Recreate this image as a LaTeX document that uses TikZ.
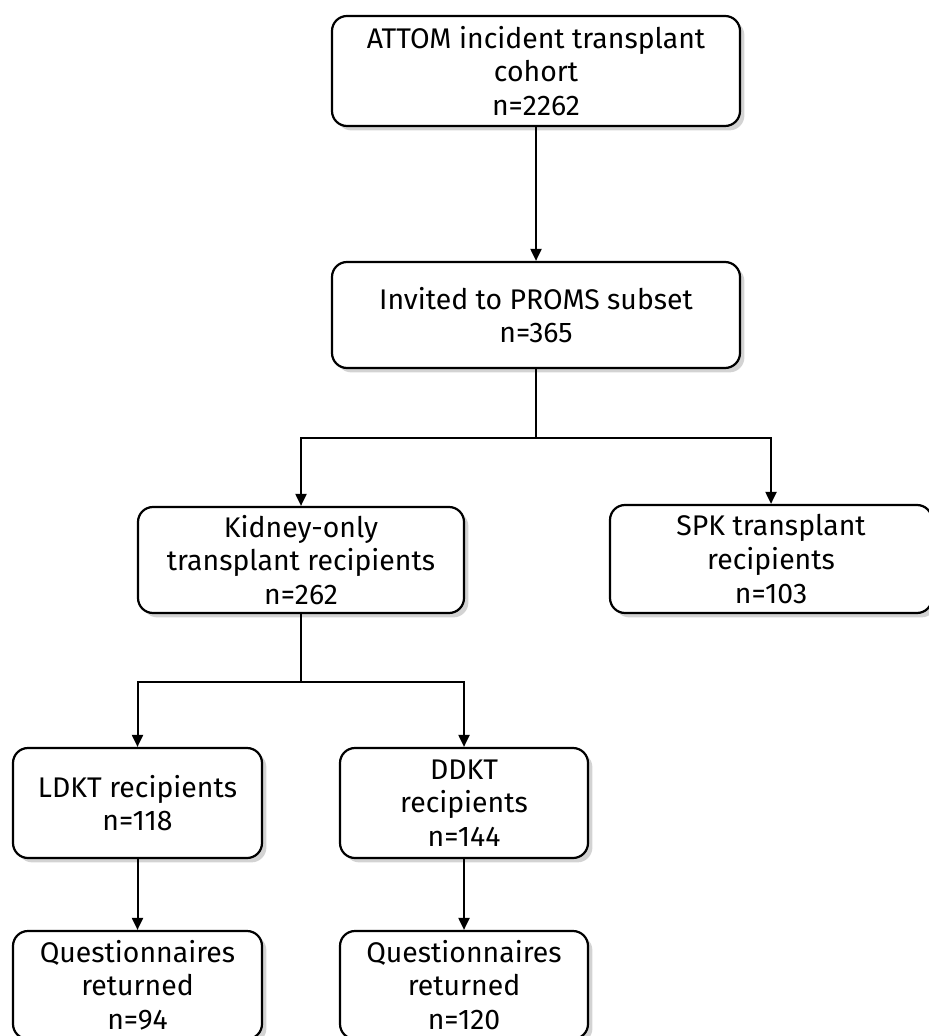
\documentclass[tikz,border=0pt]{standalone}
\usepackage{fontspec}
\setmainfont{Fira Sans}
\usepackage{tikz}
\usetikzlibrary{positioning,arrows.meta,shadows}

\tikzset{
  stagebox/.style={draw=black, line width=1.1pt, rounded corners=7.5pt, fill=white,
    align=center, inner sep=2pt, font=\fontsize{14.2}{16.8}\selectfont,
    drop shadow={opacity=0.35, shadow xshift=2.2pt, shadow yshift=-2.2pt}},
  flow/.style={line width=1pt, -{Triangle[length=6pt,width=5.5pt]}},
  link/.style={line width=1pt}
}

\begin{document}
\begin{tikzpicture}[x=0.5pt, y=-0.5pt]
    \useasboundingbox (0,0) rectangle (928,1036);

    % top of the cohort
    \node[stagebox, minimum width=204pt, minimum height=55pt] (cohort) at (536,71)
        {ATTOM incident transplant\\cohort\\n=2262};
    \node[stagebox, minimum width=204pt, minimum height=53pt] (invited) at (536,315)
        {Invited to PROMS subset\\n=365};

    % split by transplant type
    \node[stagebox, minimum width=163pt, minimum height=53pt] (kidney) at (301,560)
        {Kidney-only\\transplant recipients\\n=262};
    \node[stagebox, minimum width=161pt, minimum height=54pt] (spk) at (771,559)
        {SPK transplant\\recipients\\n=103};

    % split by donor type
    \node[stagebox, minimum width=124.5pt, minimum height=55pt] (ldkt) at (137.5,803)
        {LDKT recipients\\n=118};
    \node[stagebox, minimum width=124pt, minimum height=55pt] (ddkt) at (464,803)
        {DDKT\\recipients\\n=144};

    % returns
    \node[stagebox, minimum width=124.5pt, minimum height=54pt] (ldktret) at (137.5,985)
        {Questionnaires\\returned\\n=94};
    \node[stagebox, minimum width=124pt, minimum height=54pt] (ddktret) at (464,985)
        {Questionnaires\\returned\\n=120};

    \coordinate (split1) at (536,438);
    \coordinate (split2) at (301,682);

    \draw[flow] (cohort) -- (invited);
    \draw[link] (invited) -- (split1);
    \draw[flow] (split1) -| (kidney);
    \draw[flow] (split1) -| (spk);
    \draw[link] (kidney) -- (split2);
    \draw[flow] (split2) -| (ldkt);
    \draw[flow] (split2) -| (ddkt);
    \draw[flow] (ldkt) -- (ldktret);
    \draw[flow] (ddkt) -- (ddktret);
\end{tikzpicture}
\end{document}
